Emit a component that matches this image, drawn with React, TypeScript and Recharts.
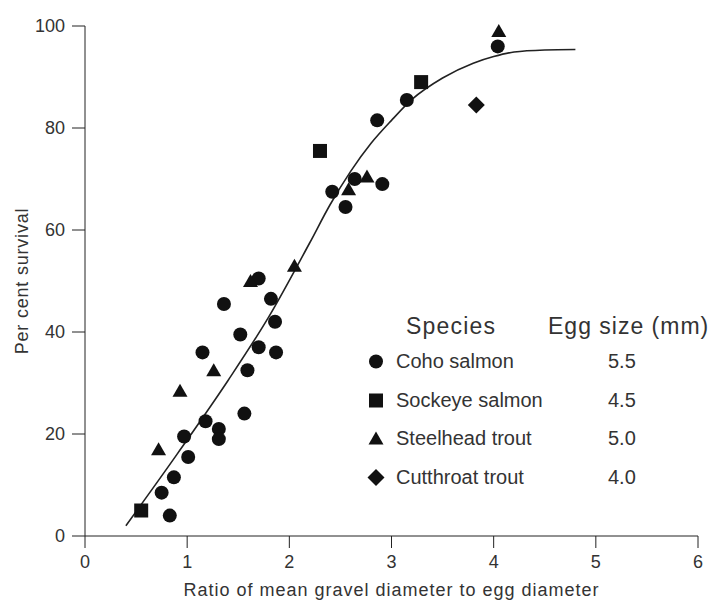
import React from "react";
import { ComposedChart, Line, Scatter, XAxis, YAxis } from "recharts";

const coho = [
  { x: 0.83, y: 4 }, { x: 0.75, y: 8.5 }, { x: 0.87, y: 11.5 }, { x: 1.01, y: 15.5 },
  { x: 0.97, y: 19.5 }, { x: 1.18, y: 22.5 }, { x: 1.31, y: 21 }, { x: 1.31, y: 19 },
  { x: 1.56, y: 24 }, { x: 1.59, y: 32.5 }, { x: 1.15, y: 36 }, { x: 1.52, y: 39.5 },
  { x: 1.7, y: 37 }, { x: 1.87, y: 36 }, { x: 1.86, y: 42 }, { x: 1.36, y: 45.5 },
  { x: 1.82, y: 46.5 }, { x: 1.7, y: 50.5 }, { x: 2.42, y: 67.5 }, { x: 2.55, y: 64.5 },
  { x: 2.64, y: 70 }, { x: 2.91, y: 69 }, { x: 2.86, y: 81.5 }, { x: 3.15, y: 85.5 },
  { x: 4.04, y: 96 },
];
const sockeye = [{ x: 0.55, y: 5 }, { x: 2.3, y: 75.5 }, { x: 3.29, y: 89 }];
const steelhead = [
  { x: 0.72, y: 17 }, { x: 0.93, y: 28.5 }, { x: 1.26, y: 32.5 }, { x: 1.62, y: 50 },
  { x: 2.05, y: 53 }, { x: 2.58, y: 68 }, { x: 2.76, y: 70.5 }, { x: 4.05, y: 99 },
];
const cutthroat = [{ x: 3.83, y: 84.5 }];

// fitted curve
const curveX = [0.4, 0.9, 1.4, 1.8, 2.2, 2.4, 2.6, 2.8, 3.0, 3.2, 3.5, 3.8, 4.0, 4.2, 4.5, 4.8];
const curveY = [2, 16, 30.5, 43, 57.5, 65, 71.5, 77, 81.5, 85.6, 89.8, 92.7, 94.0, 94.9, 95.3, 95.4];
const curve = curveX.map((x, i) => ({ x, y: curveY[i] }));

const species = ["Coho salmon", "Sockeye salmon", "Steelhead trout", "Cutthroat trout"];
const eggSizes = ["5.5", "4.5", "5.0", "4.0"];
const xTicks = [0, 1, 2, 3, 4, 5, 6];
const yTicks = [0, 20, 40, 60, 80, 100];

const INK = "#111";
const TXT = "#333";
const FONT = "'Liberation Sans', Arial, sans-serif";

const Marker = ({ kind, cx, cy }: { kind: string; cx: number; cy: number }) => {
  if (kind === "circle") return <circle cx={cx} cy={cy} r={7} fill={INK} />;
  if (kind === "square") return <rect x={cx - 7} y={cy - 7} width={14} height={14} fill={INK} />;
  if (kind === "triangle")
    return <polygon points={`${cx},${cy - 7} ${cx + 7.5},${cy + 6} ${cx - 7.5},${cy + 6}`} fill={INK} />;
  return <polygon points={`${cx},${cy - 8.5} ${cx + 8.5},${cy} ${cx},${cy + 8.5} ${cx - 8.5},${cy}`} fill={INK} />;
};

const shapeFor = (kind: string) => (p: any) => <Marker kind={kind} cx={p.cx} cy={p.cy} />;

const kinds = ["circle", "square", "triangle", "diamond"];

const YLabel = (props: any) => {
  const vb = props.viewBox || {};
  const cx = 22;
  const cy = vb.y + vb.height / 2;
  return (
    <text x={cx} y={cy} transform={`rotate(-90, ${cx}, ${cy})`} textAnchor="middle" dominantBaseline="central"
      fill={TXT} fontSize={18} fontFamily={FONT} letterSpacing={0.8}>
      Per cent survival
    </text>
  );
};

const XLabel = (props: any) => {
  const vb = props.viewBox || {};
  return (
    <text x={vb.x + vb.width / 2} y={590} textAnchor="middle" dominantBaseline="central"
      fill={TXT} fontSize={18} fontFamily={FONT} letterSpacing={1}>
      Ratio of mean gravel diameter to egg diameter
    </text>
  );
};

export default function App() {
  return (
    <div style={{ position: "absolute", left: 0, top: 0, width: 722, height: 600, background: "#fff", fontFamily: FONT }}>
      <ComposedChart width={722} height={600} margin={{ top: 26, right: 24, bottom: 0, left: 0 }}>
        <XAxis
          type="number"
          dataKey="x"
          domain={[0, 6]}
          ticks={xTicks}
          height={64}
          stroke="#222"
          tickSize={12}
          tickMargin={7}
          tick={{ fill: TXT, fontSize: 18, fontFamily: FONT }}
          label={<XLabel />}
        />
        <YAxis
          type="number"
          dataKey="y"
          domain={[0, 100]}
          ticks={yTicks}
          width={85}
          stroke="#222"
          tickSize={13}
          tickMargin={7}
          tick={{ fill: TXT, fontSize: 18, fontFamily: FONT }}
          label={<YLabel />}
        />
        <Line data={curve} dataKey="y" type="monotone" stroke="#222" strokeWidth={1.6} dot={false} isAnimationActive={false} />
        <Scatter data={coho} dataKey="y" shape={shapeFor("circle")} isAnimationActive={false} />
        <Scatter data={sockeye} dataKey="y" shape={shapeFor("square")} isAnimationActive={false} />
        <Scatter data={steelhead} dataKey="y" shape={shapeFor("triangle")} isAnimationActive={false} />
        <Scatter data={cutthroat} dataKey="y" shape={shapeFor("diamond")} isAnimationActive={false} />
      </ComposedChart>
      <div style={{ position: "absolute", left: 406, top: 313, fontSize: 23, letterSpacing: 1.2, color: TXT, whiteSpace: "nowrap" }}>Species</div>
      <div style={{ position: "absolute", left: 548, top: 313, fontSize: 23, letterSpacing: 1, color: TXT, whiteSpace: "nowrap" }}>Egg size (mm)</div>
      {species.map((s, i) => (
        <div key={s} style={{ position: "absolute", left: 366, top: 350 + i * 38.7, height: 23, width: 300, fontSize: 20, lineHeight: "23px", color: TXT, whiteSpace: "nowrap" }}>
          <svg width={20} height={23} style={{ position: "absolute", left: 0, top: 0 }}>
            <Marker kind={kinds[i]} cx={10} cy={11.5} />
          </svg>
          <span style={{ position: "absolute", left: 30, top: 0 }}>{s}</span>
          <span style={{ position: "absolute", left: 242, top: 0 }}>{eggSizes[i]}</span>
        </div>
      ))}
    </div>
  );
}
